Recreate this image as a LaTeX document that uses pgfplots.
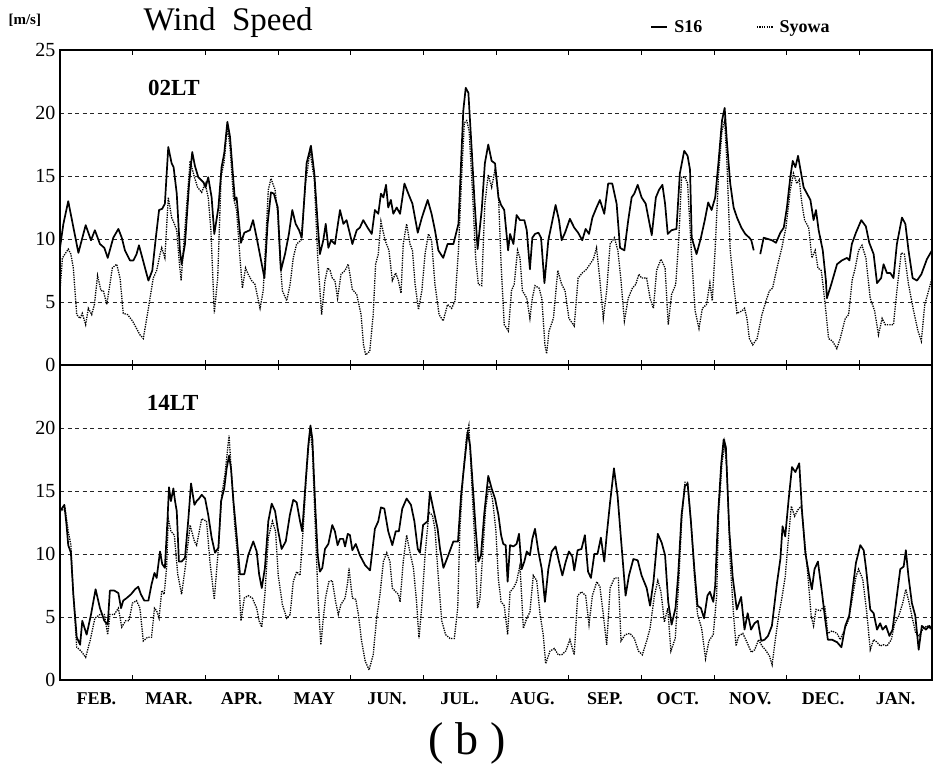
\documentclass[border=0pt]{standalone}
\usepackage{fontspec}
\setmainfont{Liberation Serif}
\usepackage{pgfplots}
\usepackage{pgfplotstable}
\pgfplotsset{compat=1.18}

\pgfplotstableread{
d v
0 9.3
1.4 11.2
3.4 13.0
7.6 8.9
10.6 11.1
12.8 9.9
14.4 10.7
16.5 9.6
18.3 9.3
19.7 8.5
22.0 10.1
24.1 10.8
25.5 10.1
26.8 9.1
28.9 8.3
30.3 8.3
31.6 8.8
32.6 9.5
34.0 8.5
35.8 7.2
36.5 6.7
38.1 7.5
39.5 10.0
40.9 12.3
42.2 12.4
43.3 12.8
44.7 17.3
46.1 16.0
46.9 15.7
48.2 13.6
49.5 9.1
50.2 8.0
51.6 9.6
53.3 14.4
54.6 16.9
55.7 15.8
57.1 14.9
59.2 14.5
60.1 14.1
61.2 14.9
62.6 13.3
63.7 10.4
65.4 12.5
66.7 15.7
67.8 16.8
69.1 19.3
70.2 18.1
72.2 13.1
72.9 13.3
74.7 9.7
76.1 10.5
78.4 10.7
79.7 11.5
81.2 10.1
83.3 8.0
84.4 6.9
85.7 11.2
87.1 13.7
88.3 13.6
89.9 12.5
91.2 7.5
92.9 8.8
94.5 10.4
95.9 12.3
97.3 11.2
98.7 10.7
99.8 10.1
101.8 16.0
103.6 17.4
105.0 15.2
106.4 11.2
107.3 8.8
108.7 9.9
109.7 11.2
110.8 9.3
111.9 9.9
113.5 9.6
115.6 12.3
117.0 11.2
118.3 11.5
119.7 10.4
120.7 9.6
122.5 10.7
123.8 10.9
125.2 11.5
127.0 10.9
128.7 10.4
130.0 12.3
131.4 12.0
132.5 13.6
133.5 13.3
134.6 14.3
135.5 12.5
136.6 13.1
137.6 12.0
139.0 12.5
140.4 12.0
142.2 14.4
143.8 13.6
145.5 12.8
147.7 10.5
149.4 11.7
151.8 13.1
153.4 12.0
154.8 10.7
156.2 9.1
158.2 8.5
160.0 9.6
162.4 9.6
164.5 11.2
165.5 15.7
166.5 20.2
167.5 22.0
168.6 21.6
170.0 17.0
171.1 13.1
172.4 9.2
174.1 12.3
175.4 16.0
176.8 17.5
178.2 16.2
179.6 16.0
181.0 13.3
182.1 12.7
183.4 12.3
185.0 9.1
185.8 10.4
187.2 9.6
188.5 11.9
189.9 11.5
191.7 11.5
192.7 10.7
194.0 7.6
195.0 10.1
196.1 10.4
197.5 10.5
198.6 10.1
200.0 6.5
201.6 9.9
203.0 11.2
204.6 12.7
206.0 11.5
207.1 9.9
208.5 10.5
210.5 11.6
212.3 10.9
213.9 10.5
215.6 9.9
217.0 10.8
218.4 10.4
219.8 11.7
221.5 12.5
222.9 13.1
224.7 12.0
226.3 14.4
228.0 14.4
229.8 12.8
231.2 9.3
233.0 9.1
234.6 11.5
236.0 13.3
237.1 13.6
238.5 14.3
240.1 13.3
241.8 12.8
244.3 10.3
246.0 13.3
247.3 13.9
248.7 14.3
249.8 12.8
250.9 10.4
252.5 10.7
254.5 10.8
255.9 15.2
257.7 17.0
259.1 16.6
260.1 15.5
260.8 10.1
262.8 8.8
264.6 10.1
266.2 11.5
267.6 12.9
269.0 12.3
270.5 13.3
271.9 16.2
273.3 19.4
274.4 20.4
275.3 17.8
276.7 14.4
278.1 12.5
279.5 11.7
281.3 10.9
282.9 10.4
284.6 10.1
285.4 9.9
286.4 9.1
287.5 nan
289.1 8.8
290.5 10.1
292.3 10.0
293.9 9.9
295.6 9.7
297.4 10.5
298.8 10.9
300.1 12.5
301.5 14.9
302.5 16.2
303.6 15.7
304.7 16.6
305.7 15.5
307.0 14.1
308.4 13.6
309.8 13.1
311.1 11.5
312.1 12.3
313.2 10.7
314.9 9.1
316.2 6.7
316.6 5.3
318.4 6.4
320.8 8.0
322.8 8.3
324.9 8.5
325.9 8.3
326.9 9.6
328.6 10.5
330.8 11.5
332.7 11.0
334.1 9.7
335.9 8.8
337.3 6.5
339.0 6.9
340.0 8.0
341.4 7.3
342.8 7.3
344.1 6.9
345.5 9.6
347.6 11.7
349.0 11.2
350.3 9.1
352.0 6.9
353.8 6.7
355.6 7.2
357.9 8.4
360.0 9.1
}\topsixteen

\pgfplotstableread{
d v
0 5.9
1.0 8.5
3.4 9.2
4.5 8.8
5.5 7.7
6.9 4.0
8.3 3.7
9.2 4.1
10.6 3.2
11.7 4.5
13.1 4.0
14.2 4.8
15.5 7.1
16.9 5.9
17.9 5.9
19.3 4.8
20.6 6.4
21.6 7.7
23.4 8.0
24.8 6.9
26.1 4.1
27.9 4.0
29.9 3.5
31.6 2.9
33.0 2.4
34.4 2.1
36.5 4.5
38.5 6.9
39.9 7.5
41.3 8.8
42.0 9.3
43.3 8.5
44.7 13.3
46.1 11.7
47.2 11.2
48.2 10.7
49.1 8.5
50.0 6.7
51.3 10.1
53.7 16.2
55.5 14.9
56.8 14.1
58.5 13.7
59.9 14.4
61.2 13.3
62.3 10.7
63.7 4.1
65.1 6.9
66.5 14.9
67.8 16.2
69.1 18.9
70.2 17.3
71.6 13.3
72.9 12.3
74.3 8.5
75.3 6.1
76.6 7.7
77.7 7.2
79.1 6.7
80.5 6.4
82.6 4.5
83.9 5.9
86.0 13.9
87.1 14.8
88.8 13.9
89.9 12.0
90.8 8.5
91.8 5.9
93.6 5.1
95.0 6.4
96.3 8.5
97.7 9.6
99.5 9.9
101.4 14.4
103.2 17.0
105.0 14.7
106.4 8.5
108.0 4.0
109.4 6.7
110.5 7.7
111.5 7.5
112.4 6.9
113.5 6.7
114.6 5.3
116.0 7.2
117.7 7.5
119.0 8.0
120.7 6.0
122.5 5.6
124.3 4.0
125.3 1.6
126.2 0.8
127.9 1.1
129.3 4.0
130.3 8.0
131.4 8.8
132.5 11.4
134.2 9.9
135.8 9.1
137.2 6.7
138.6 7.3
139.7 6.7
140.8 5.7
141.7 9.6
143.1 11.2
144.5 9.6
145.5 9.1
146.6 6.4
148.0 4.4
149.4 5.9
150.7 8.8
152.1 10.4
153.4 9.9
154.8 6.4
156.5 4.0
158.2 3.5
160.0 4.8
161.7 4.5
163.1 5.1
164.5 9.1
165.8 14.9
166.9 19.2
167.9 19.4
168.9 18.6
170.2 14.1
171.6 8.5
172.7 6.4
174.1 6.3
175.4 12.8
176.8 15.1
178.2 14.1
179.6 15.5
181.0 13.6
182.1 8.0
183.4 3.2
185.1 2.7
186.4 5.9
187.5 6.4
188.9 9.1
189.9 8.5
190.9 5.9
192.7 5.3
194.0 3.7
195.0 5.3
196.1 6.3
197.8 6.1
198.9 5.3
200.2 1.6
200.9 0.9
201.9 2.7
203.7 3.7
205.5 7.5
207.1 6.4
208.5 5.9
210.1 3.7
212.3 3.1
213.9 6.9
215.6 7.3
217.4 7.6
218.8 8.0
220.2 8.4
221.5 9.3
222.9 6.7
224.3 3.7
225.7 5.9
227.1 9.6
228.9 10.1
230.3 9.1
231.6 6.7
233.0 3.5
234.6 5.3
236.3 6.1
237.7 6.4
239.0 7.2
240.1 6.9
242.2 6.9
243.6 5.3
245.0 4.5
246.3 7.5
248.1 8.4
249.8 7.7
251.1 3.2
252.5 5.6
254.2 6.4
255.5 10.1
256.6 14.9
258.0 14.9
259.1 14.4
260.8 8.5
262.2 4.3
263.8 2.9
265.2 4.5
266.9 4.8
268.3 6.5
269.3 5.1
270.5 9.3
271.9 15.2
273.3 18.6
274.4 19.4
275.3 16.2
276.7 9.1
278.1 6.4
279.5 4.1
281.6 4.3
282.6 4.5
283.6 3.7
284.6 2.1
286.0 1.6
287.8 2.1
289.8 4.0
291.5 5.1
292.9 5.9
294.2 6.1
296.0 7.7
298.0 9.3
299.7 10.9
301.5 13.9
302.8 15.2
304.2 14.4
305.2 14.7
306.3 12.8
307.4 11.5
309.1 10.9
310.4 8.5
311.8 9.1
312.9 7.7
314.3 7.5
315.9 4.8
317.3 2.1
318.9 1.9
320.7 1.3
322.1 2.1
324.2 3.7
325.6 4.0
327.0 6.7
328.3 7.7
329.7 9.1
331.1 9.5
332.7 8.5
334.5 5.3
336.3 4.3
337.9 2.4
339.4 3.7
340.7 3.2
342.8 3.2
344.1 3.2
345.5 5.9
347.3 8.9
348.6 8.8
350.3 6.4
352.4 4.3
354.2 2.7
355.6 1.9
357.0 4.8
358.6 5.9
360.0 6.9
}\topsyowa

\pgfplotstableread{
d v
0 13.4
1.8 13.9
2.7 12.3
3.4 10.7
4.5 10.1
5.5 6.8
6.9 3.4
8.3 2.8
9.2 4.7
11.0 3.6
12.8 5.2
14.7 7.2
16.5 5.7
18.3 4.7
19.7 4.4
20.6 7.1
22.4 7.1
24.1 6.9
25.2 5.7
26.1 6.3
27.5 6.5
29.3 6.8
31.0 7.2
32.3 7.4
33.4 6.8
34.8 6.3
36.5 6.3
37.8 7.6
39.0 8.5
39.9 8.1
41.3 10.2
42.2 9.2
43.3 8.9
44.4 12.8
45.0 15.3
45.8 14.2
46.8 15.2
47.5 14.2
48.2 13.4
49.1 9.4
50.2 9.4
51.6 9.7
53.0 12.8
54.1 15.6
55.5 13.9
56.4 14.2
57.4 14.4
58.5 14.7
59.9 14.4
61.2 13.1
62.6 11.3
64.0 10.1
65.4 10.5
66.5 14.2
67.8 15.2
68.8 16.8
69.8 17.8
70.6 16.8
71.6 14.2
72.9 11.5
74.3 8.4
76.1 8.4
77.7 9.9
79.8 11.0
81.2 10.2
82.2 8.4
83.3 7.3
84.6 8.9
86.0 12.6
87.4 14.0
88.8 13.4
89.9 12.0
91.5 10.4
93.2 11.0
94.9 13.1
96.3 14.3
97.7 14.1
99.1 12.6
100.0 11.8
101.4 15.7
102.5 18.6
103.4 20.2
104.2 19.1
105.3 14.1
106.4 9.9
107.3 8.6
108.3 8.9
109.4 10.4
110.8 10.8
112.4 12.3
113.5 11.8
114.6 10.7
115.6 11.2
116.9 11.2
117.7 10.6
118.8 11.6
119.7 11.5
120.7 10.3
122.1 10.8
123.8 9.9
126.0 9.1
128.0 8.7
130.0 12.0
131.4 12.6
132.5 13.7
133.9 13.6
135.5 11.8
137.2 10.7
138.6 11.8
139.9 11.8
141.3 13.6
143.1 14.4
144.9 13.9
146.3 12.6
147.7 10.4
148.6 10.1
149.9 12.3
151.8 12.6
152.7 14.9
154.1 13.6
155.9 12.0
156.9 10.4
158.3 8.9
160.3 9.9
162.4 11.0
164.3 11.0
165.6 14.7
167.0 17.3
168.3 19.7
169.3 18.6
170.6 14.9
171.6 12.0
172.7 9.4
173.8 9.9
175.2 13.3
176.8 16.2
178.2 15.2
179.6 14.4
181.0 13.1
182.1 11.5
183.0 10.8
184.0 10.7
184.8 7.8
185.8 10.7
187.2 10.6
188.5 10.8
189.5 11.6
190.6 8.8
191.7 9.4
192.7 10.2
194.0 9.9
195.0 11.2
196.1 12.0
197.5 10.2
198.9 8.8
200.2 6.2
201.6 8.8
203.0 10.2
204.6 10.6
206.0 9.4
207.4 8.3
208.8 9.4
210.1 10.2
211.5 9.8
212.3 8.7
213.7 10.3
215.3 10.4
216.7 11.5
218.0 8.6
219.2 8.1
220.6 10.0
221.9 10.0
223.3 11.3
224.7 9.4
225.7 11.5
227.1 14.1
228.7 16.8
230.2 14.6
231.6 11.2
233.5 6.7
234.9 8.3
236.7 9.6
238.5 9.5
240.1 8.3
242.2 7.3
243.6 5.9
245.0 7.8
246.8 11.6
248.4 10.9
249.8 9.9
251.1 6.2
252.5 4.4
254.1 5.7
255.2 8.3
256.6 13.1
258.0 15.4
259.1 15.6
260.5 12.5
261.9 8.8
263.2 5.9
264.6 5.7
265.9 4.9
267.3 6.7
268.3 7.0
269.7 6.2
270.5 7.5
271.7 13.2
273.0 17.2
274.0 19.1
274.9 18.5
276.3 11.9
277.7 8.2
279.4 5.6
281.2 6.6
282.6 4.0
283.9 5.3
285.3 4.0
286.7 4.5
288.1 4.7
289.5 3.1
290.9 3.2
292.3 3.5
293.9 4.3
296.0 7.7
297.4 9.6
298.3 12.2
299.4 11.4
300.8 14.3
302.2 16.9
303.6 16.5
305.2 17.2
306.3 13.5
307.7 10.1
309.1 8.5
310.4 7.2
311.5 8.8
312.9 9.4
314.6 6.9
315.9 4.8
317.0 3.2
318.7 3.2
320.8 3.0
322.6 2.6
324.2 4.3
325.8 5.1
327.2 7.2
328.6 9.3
330.4 10.7
331.8 10.3
332.8 8.8
334.5 5.6
335.9 5.3
337.3 4.0
338.6 4.5
339.6 4.0
341.0 4.3
342.4 3.5
343.7 4.0
345.1 6.1
346.9 8.8
348.3 9.0
349.2 10.3
350.3 8.2
351.7 6.1
353.1 5.1
354.5 2.4
355.8 4.3
357.5 4.0
358.9 4.3
360.0 4.0
}\botsixteen

\pgfplotstableread{
d v
0 13.4
2.1 13.6
3.4 11.8
4.5 10.7
5.5 6.8
6.9 2.6
8.7 2.3
10.6 1.8
12.4 3.1
14.4 4.9
16.5 5.2
18.3 5.2
19.7 3.6
20.6 5.2
22.4 5.2
24.1 5.7
25.5 4.2
27.1 4.7
28.5 4.7
29.9 6.1
31.6 6.3
33.0 5.7
34.4 3.1
36.2 3.4
37.8 3.4
39.0 5.7
39.9 5.5
40.9 4.9
42.0 7.1
43.0 6.8
44.0 8.9
44.7 12.8
45.8 11.8
47.2 11.5
48.6 8.4
50.2 6.8
51.9 9.2
53.7 12.3
55.5 11.0
56.4 10.7
58.5 12.8
60.5 12.6
61.9 9.4
63.7 6.4
65.4 10.5
66.8 14.7
68.1 16.3
69.8 19.4
70.9 16.0
72.2 12.1
73.3 9.9
74.7 4.7
76.1 6.5
77.7 6.7
79.4 6.5
81.2 5.7
82.2 4.7
83.3 4.2
84.6 6.8
86.0 11.3
87.7 12.6
89.0 11.8
90.1 8.3
91.8 6.0
93.6 4.9
95.0 5.2
96.3 7.8
97.7 8.6
99.1 8.3
100.4 12.0
101.8 16.5
103.2 19.9
104.2 18.3
105.3 12.6
106.6 6.2
107.7 2.8
108.7 4.9
109.6 6.5
111.0 7.8
112.4 7.9
113.8 6.2
114.9 5.2
116.0 6.0
117.7 6.5
118.8 7.8
119.3 8.9
120.7 6.5
122.1 6.4
123.2 5.2
124.5 3.1
126.0 1.5
127.6 0.8
129.3 2.0
130.7 4.9
132.1 6.8
133.5 9.4
134.9 10.1
136.2 9.4
137.2 7.3
138.6 7.0
139.7 6.8
140.4 6.2
141.7 9.4
143.1 11.5
144.5 10.1
145.9 8.9
147.2 6.2
148.2 3.3
149.3 5.7
150.7 9.9
152.3 13.3
153.7 13.1
154.8 12.0
156.2 8.1
157.6 4.7
159.2 3.6
161.0 3.3
162.8 3.3
164.2 5.7
165.1 12.0
166.5 16.5
167.9 19.4
168.8 20.2
169.9 16.0
171.3 10.7
172.4 5.7
173.4 6.5
174.3 9.4
175.7 13.6
177.1 15.4
178.5 14.4
179.9 12.0
181.0 8.0
182.1 6.2
183.4 5.9
184.8 3.6
185.8 7.0
187.2 7.3
188.5 7.8
189.9 9.1
191.3 4.1
192.7 4.9
194.0 5.4
195.4 8.3
196.8 7.9
198.2 5.2
199.5 3.6
200.5 1.3
202.3 2.3
204.1 2.5
205.7 2.0
207.1 2.0
208.8 2.3
210.5 3.2
212.3 2.0
213.7 6.7
215.3 7.0
217.0 6.7
218.4 4.4
219.8 6.7
221.6 7.8
222.9 7.4
224.3 5.2
225.7 2.8
227.1 7.3
228.9 8.1
230.5 8.1
231.6 3.1
233.3 3.6
235.3 3.7
237.1 3.3
238.8 2.3
240.4 2.0
242.2 3.1
243.6 4.1
245.4 6.7
246.8 7.9
248.1 7.0
249.5 4.6
250.9 5.7
252.2 2.3
254.0 3.3
255.3 7.3
256.7 12.8
258.0 15.7
259.1 15.7
260.5 12.5
261.9 8.3
263.2 5.2
264.9 4.1
266.5 1.7
267.9 3.1
269.7 3.6
271.1 6.7
271.9 13.2
273.3 17.2
274.4 18.8
275.3 16.7
276.7 9.3
278.1 5.1
279.1 2.7
280.2 3.5
281.9 3.7
283.6 3.0
285.4 2.2
286.8 2.4
288.4 3.2
289.8 2.7
291.2 2.4
292.9 1.9
294.0 1.2
295.3 3.2
296.7 5.1
298.1 6.6
299.4 8.2
300.8 11.4
301.9 13.8
303.3 13.0
304.6 13.5
306.0 13.8
307.4 11.1
308.8 8.2
310.1 5.1
311.1 4.3
312.1 5.6
313.9 5.5
315.7 5.9
317.0 3.7
318.7 3.9
320.8 3.7
322.1 3.2
323.9 4.0
325.6 4.8
327.2 6.6
328.6 8.2
329.7 8.8
331.4 8.0
333.1 5.3
334.5 2.4
335.9 3.2
337.3 3.0
338.6 2.7
340.0 2.8
341.4 2.7
343.2 3.2
344.6 4.5
346.3 5.1
347.9 6.1
349.2 7.2
350.6 6.1
352.0 4.8
353.3 3.7
354.7 3.5
356.1 4.0
357.9 4.3
360.0 4.0
}\botsyowa

\pgfplotsset{
  wsbase/.style={
    scale only axis, width=872pt, height=315pt,
    xmin=0, xmax=360, ymin=0, ymax=25,
    axis line style={line width=1.7pt},
    ymajorgrids,
    grid style={line width=0.7pt, black!85, dash pattern=on 4pt off 3.5pt},
    ytick style={draw=none},
    xtick={15,45,...,345},
    major x tick style={draw=none},
    minor xtick={30,60,...,330},
    minor tick length=5pt,
    minor x tick style={line width=0.9pt, black},
    tick align=inside, xtick pos=both, ytick pos=left,
    unbounded coords=jump,
    /pgf/number format/assume math mode=true,
    yticklabel style={font=\fontsize{20}{20}\selectfont, xshift=-1pt},
    xticklabel style={font=\bfseries\fontsize{18}{18}\selectfont, yshift=-9pt},
  },
  sixteen/.style={black, line width=1.7pt, line join=round, no markers},
  syowa/.style={black, line width=1.3pt, dash pattern=on 1.3pt off 1.1pt, no markers},
}

\begin{document}
\begin{tikzpicture}[x=1pt,y=1pt]
\useasboundingbox (0pt,0pt) rectangle (934pt,-765pt);

\begin{axis}[wsbase, at={(60pt,-50pt)}, anchor=north west,
  ytick={0,5,...,25}, xticklabels={},
  legend columns=2,
  legend style={at={(0.677,1.0)}, anchor=south west, yshift=14pt, draw=none, fill=none,
    inner sep=0pt, font=\bfseries\fontsize{18}{18}\selectfont,
    nodes={inner xsep=6pt},
    /tikz/every even column/.append style={column sep=48pt}},
  legend image code/.code={\draw[#1] (-4pt,0pt) -- (12pt,0pt);},
]
\addplot[sixteen] table[x=d,y=v] {\topsixteen};
\addlegendentry{S16}
\addplot[syowa] table[x=d,y=v] {\topsyowa};
\addlegendentry{Syowa}
\node[font=\bfseries\fontsize{23}{23}\selectfont] at (axis cs:47,22) {02LT};
\end{axis}

\begin{axis}[wsbase, at={(60pt,-365pt)}, anchor=north west,
  ytick={0,5,...,20},
  xticklabels={FEB.,MAR.,APR.,MAY,JUN.,JUL.,AUG.,SEP.,OCT.,NOV.,DEC.,JAN.},
]
\addplot[sixteen] table[x=d,y=v] {\botsixteen};
\addplot[syowa] table[x=d,y=v] {\botsyowa};
\node[font=\bfseries\fontsize{23}{23}\selectfont] at (axis cs:46.5,22) {14LT};
\end{axis}

\node[anchor=base west, font=\bfseries\fontsize{15}{15}\selectfont] at (5pt,-25pt) {[m/s]};
\node[anchor=base west, font=\fontsize{33}{33}\selectfont] at (140pt,-31pt) {Wind\ \ Speed};
\node[anchor=base, font=\fontsize{46}{46}\selectfont] at (467pt,-754pt) {(\hspace{12pt}b\hspace{12pt})};
\end{tikzpicture}
\end{document}
